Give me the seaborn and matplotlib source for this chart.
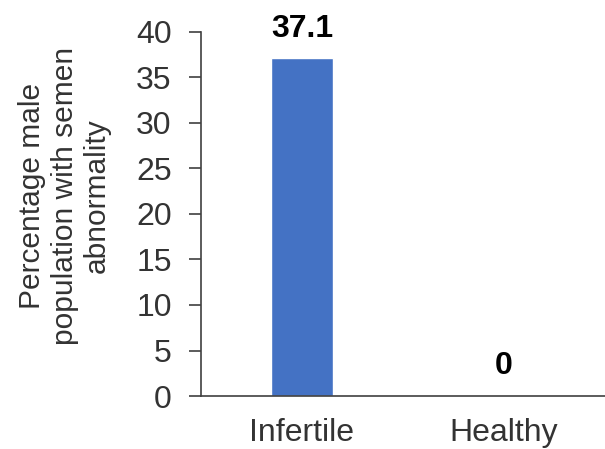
import pandas as pd
import seaborn as sns
import matplotlib.pyplot as plt

# Data
groups = ['Infertile', 'Healthy']
percent = [37.1, 0]
value_labels = ['37.1', '0']

df = pd.DataFrame({'Group': groups, 'Percent': percent})

sns.set_style("ticks")
plt.rcParams['font.family'] = ['Liberation Sans', 'DejaVu Sans']

fig = plt.figure(figsize=(6.05, 4.49), dpi=100)
ax = fig.add_axes([0.332, 0.118, 0.668, 0.811])

sns.barplot(x='Group', y='Percent', data=df, color='#4472C4', width=0.31,
            saturation=1, ax=ax)

# Bold value labels above the bars
for i, (v, lab) in enumerate(zip(percent, value_labels)):
    ax.annotate(lab, (i, v), xytext=(0, 10.5), textcoords='offset points',
                ha='center', va='bottom', fontsize=23, fontweight='bold',
                color='black')

ax.set_ylim(0, 40)
ax.set_yticks(range(0, 41, 5))
ax.set_xlim(-0.5, 1.5)
ax.tick_params(axis='y', labelsize=23, length=9, width=1.2, color='#404040',
               labelcolor='#333333', pad=12)
ax.tick_params(axis='x', labelsize=23, length=0, pad=16, labelcolor='#333333')
for s in ['left', 'bottom']:
    ax.spines[s].set_color('#404040')
    ax.spines[s].set_linewidth(1.2)
sns.despine(ax=ax)

ax.set_xlabel('')
ax.set_ylabel('Percentage male\npopulation with semen\nabnormality', fontsize=21.5,
              linespacing=1.2, labelpad=18, color='#333333')
ax.yaxis.label.set_y(0.55)

plt.savefig('out.png', dpi=100)
